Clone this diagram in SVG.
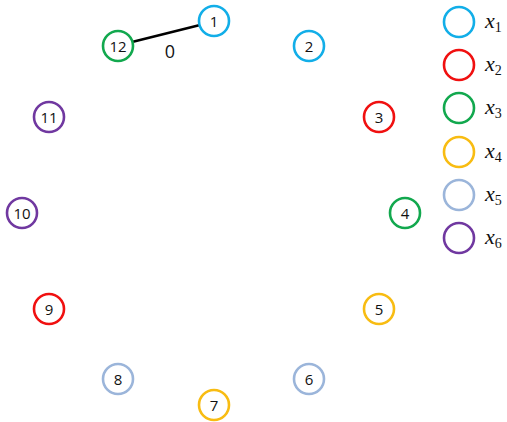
<svg xmlns="http://www.w3.org/2000/svg" width="507" height="422" viewBox="0 0 507 422">
<style>
.n{fill:#fff;stroke-width:2.6}
.t{font-family:"Open Sans","Noto Sans",sans-serif;font-size:15px;fill:#111;text-anchor:middle;dominant-baseline:central}
.c1{stroke:#12aee8}.c2{stroke:#f01010}.c3{stroke:#12a84e}.c4{stroke:#f8bc12}.c5{stroke:#9bb5da}.c6{stroke:#7038a0}
.lg{font-family:"Liberation Serif",serif;font-style:italic;font-size:22px;fill:#111}
.sub{font-family:"Liberation Serif",serif;font-style:normal;font-size:14px}
</style>
<g id="connectors">
<line x1="132" y1="42" x2="200" y2="25" stroke="#000" stroke-width="2.5"/>
<text x="170" y="51" class="t" style="font-size:18px">0</text>
</g>
<g id="n1"><circle cx="214" cy="21" r="15" class="n c1"/><text x="214" y="21" class="t">1</text></g>
<g id="n2"><circle cx="309" cy="46" r="15" class="n c1"/><text x="309" y="46" class="t">2</text></g>
<g id="n3"><circle cx="379" cy="117" r="15" class="n c2"/><text x="379" y="117" class="t">3</text></g>
<g id="n4"><circle cx="405" cy="213" r="15" class="n c3"/><text x="405" y="213" class="t">4</text></g>
<g id="n5"><circle cx="379" cy="309" r="15" class="n c4"/><text x="379" y="309" class="t">5</text></g>
<g id="n6"><circle cx="309" cy="379" r="15" class="n c5"/><text x="309" y="379" class="t">6</text></g>
<g id="n7"><circle cx="214" cy="405" r="15" class="n c4"/><text x="214" y="405" class="t">7</text></g>
<g id="n8"><circle cx="118" cy="379" r="15" class="n c5"/><text x="118" y="379" class="t">8</text></g>
<g id="n9"><circle cx="49" cy="309" r="15" class="n c2"/><text x="49" y="309" class="t">9</text></g>
<g id="n10"><circle cx="22" cy="213" r="15" class="n c6"/><text x="22" y="213" class="t">10</text></g>
<g id="n11"><circle cx="49" cy="117" r="15" class="n c6"/><text x="49" y="117" class="t">11</text></g>
<g id="n12"><circle cx="118" cy="46" r="15" class="n c3"/><text x="118" y="46" class="t">12</text></g>
<g id="legend">
<circle cx="459" cy="22" r="15" class="n c1"/><text x="485" y="28" class="lg">x<tspan class="sub" dy="4">1</tspan></text>
<circle cx="459" cy="65" r="15" class="n c2"/><text x="485" y="71" class="lg">x<tspan class="sub" dy="4">2</tspan></text>
<circle cx="459" cy="108" r="15" class="n c3"/><text x="485" y="114" class="lg">x<tspan class="sub" dy="4">3</tspan></text>
<circle cx="459" cy="152" r="15" class="n c4"/><text x="485" y="158" class="lg">x<tspan class="sub" dy="4">4</tspan></text>
<circle cx="459" cy="195" r="15" class="n c5"/><text x="485" y="201" class="lg">x<tspan class="sub" dy="4">5</tspan></text>
<circle cx="459" cy="238" r="15" class="n c6"/><text x="485" y="244" class="lg">x<tspan class="sub" dy="4">6</tspan></text>
</g>
</svg>
